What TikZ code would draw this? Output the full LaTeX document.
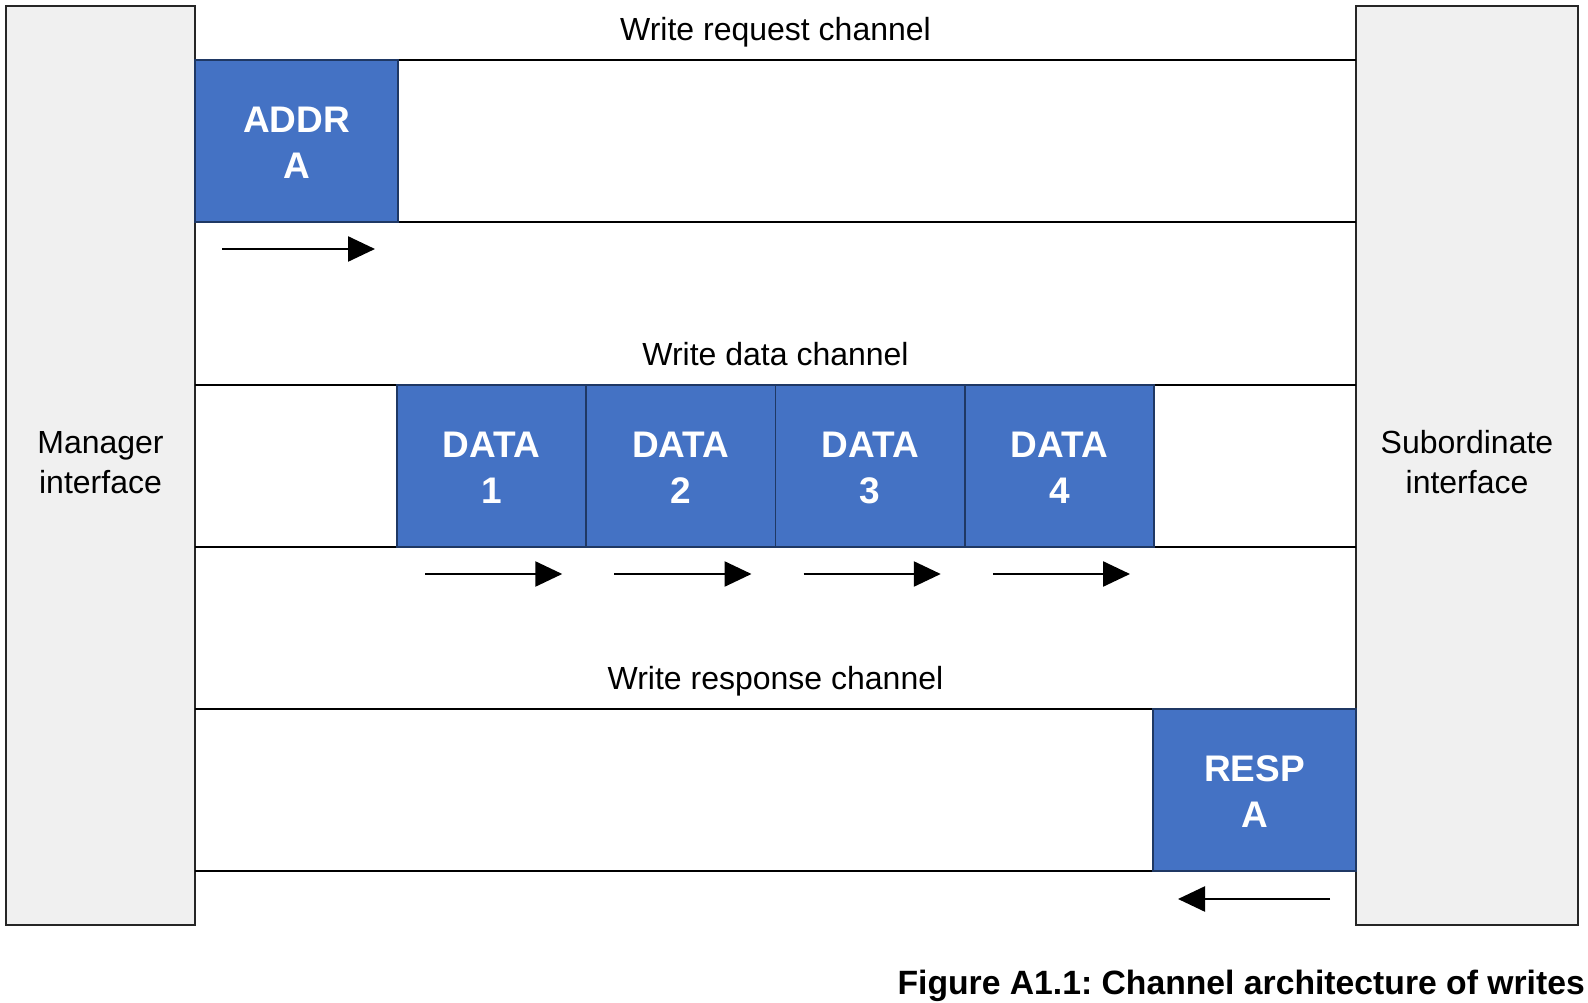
\documentclass[tikz,border=0pt]{standalone}
\usepackage{fontspec}
\setmainfont{Liberation Sans}
\usetikzlibrary{calc,arrows.meta}

\definecolor{beatblue}{HTML}{4472C4}
\definecolor{beatedge}{HTML}{1F3864}
\definecolor{ifacegray}{HTML}{F0F0F0}

\tikzset{
  iface/.style={draw=black!85, line width=2pt, fill=ifacegray, inner sep=0pt, outer sep=0pt,
    anchor=north west, align=center, font=\fontsize{32}{40}\selectfont},
  chan/.style={inner sep=0pt, outer sep=0pt, anchor=north west, minimum height=162pt},
  chanline/.style={draw=black, line width=2pt},
  beat/.style={draw=beatedge, line width=1.6pt, fill=beatblue, text=white, inner sep=0pt, outer sep=0pt,
    anchor=north west, minimum height=162pt, align=center,
    font=\fontsize{37}{46}\selectfont\bfseries},
  chanlabel/.style={anchor=base, font=\fontsize{32}{38}\selectfont},
  flow/.style={line width=2.5pt, -{Triangle[length=27pt,width=25pt]}},
}

\begin{document}
\frenchspacing
\begin{tikzpicture}[x=1pt, y=-1pt]
  \useasboundingbox (0,0) rectangle (1588,1003);

  % interfaces at both ends
  \node[iface, minimum width=189pt, minimum height=919pt] (mgr) at (6,6) {};
  \node[iface, minimum width=222pt, minimum height=919pt] (sub) at (1356,6) {};
  \node[font=\fontsize{32}{40}\selectfont, align=center] (mgrtxt) at ($(mgr.center)+(0,-3)$) {Manager\\interface};
  \node[font=\fontsize{32}{40}\selectfont, align=center] (subtxt) at ($(sub.center)+(0,-3)$) {Subordinate\\interface};

  % the three channels
  \node[chan, minimum width=1161pt] (req) at (195,60) {};
  \node[chan, minimum width=1161pt] (dat) at (195,385) {};
  \node[chan, minimum width=1161pt] (rsp) at (195,709) {};
  \foreach \c in {req,dat,rsp}{
    \draw[chanline] (\c.north west) -- (\c.north east);
    \draw[chanline] (\c.south west) -- (\c.south east);
  }
  \node[chanlabel] (reqlbl) at ($(req.north)+(0,-19)$) {Write request channel};
  \node[chanlabel] (datlbl) at ($(dat.north)+(0,-20)$) {Write data channel};
  \node[chanlabel] (rsplbl) at ($(rsp.north)+(0,-20)$) {Write response channel};

  % transfers on each channel
  \node[beat, minimum width=203pt] (addr) at (195,60) {};
  \node[beat, minimum width=189.25pt] (d1) at (397,385) {};
  \node[beat, minimum width=189.25pt] (d2) at (d1.north east) {};
  \node[beat, minimum width=189.25pt] (d3) at (d2.north east) {};
  \node[beat, minimum width=189.25pt] (d4) at (d3.north east) {};
  \node[beat, minimum width=203pt] (resp) at (1153,709) {};
  \foreach \b/\t in {addr/ADDR\\A, d1/DATA\\1, d2/DATA\\2, d3/DATA\\3, d4/DATA\\4, resp/RESP\\A}{
    \node[text=white, align=center, font=\fontsize{37}{46}\selectfont\bfseries] (\b txt)
      at ($(\b.center)+(0,2)$) {\t};
  }

  % direction of each transfer
  \coordinate (a0) at ($(addr.south west)+(27,27)$);
  \coordinate (a1) at ($(addr.south east)+(-23,27)$);
  \draw[flow] (a0) -- (a1);
  \foreach \d in {d1,d2,d3,d4}{
    \coordinate (\d s) at ($(\d.south west)+(28,27)$);
    \coordinate (\d e) at ($(\d.south east)+(-24,27)$);
    \draw[flow] (\d s) -- (\d e);
  }
  \coordinate (r0) at ($(resp.south east)+(-26,28)$);
  \coordinate (r1) at ($(resp.south west)+(25,28)$);
  \draw[flow] (r0) -- (r1);

  % caption
  \node[anchor=base east, inner sep=0pt, font=\fontsize{33.7}{40}\selectfont\bfseries] (cap) at (1585,994)
    {Figure A1.1: Channel architecture of writes};
\end{tikzpicture}
\end{document}
